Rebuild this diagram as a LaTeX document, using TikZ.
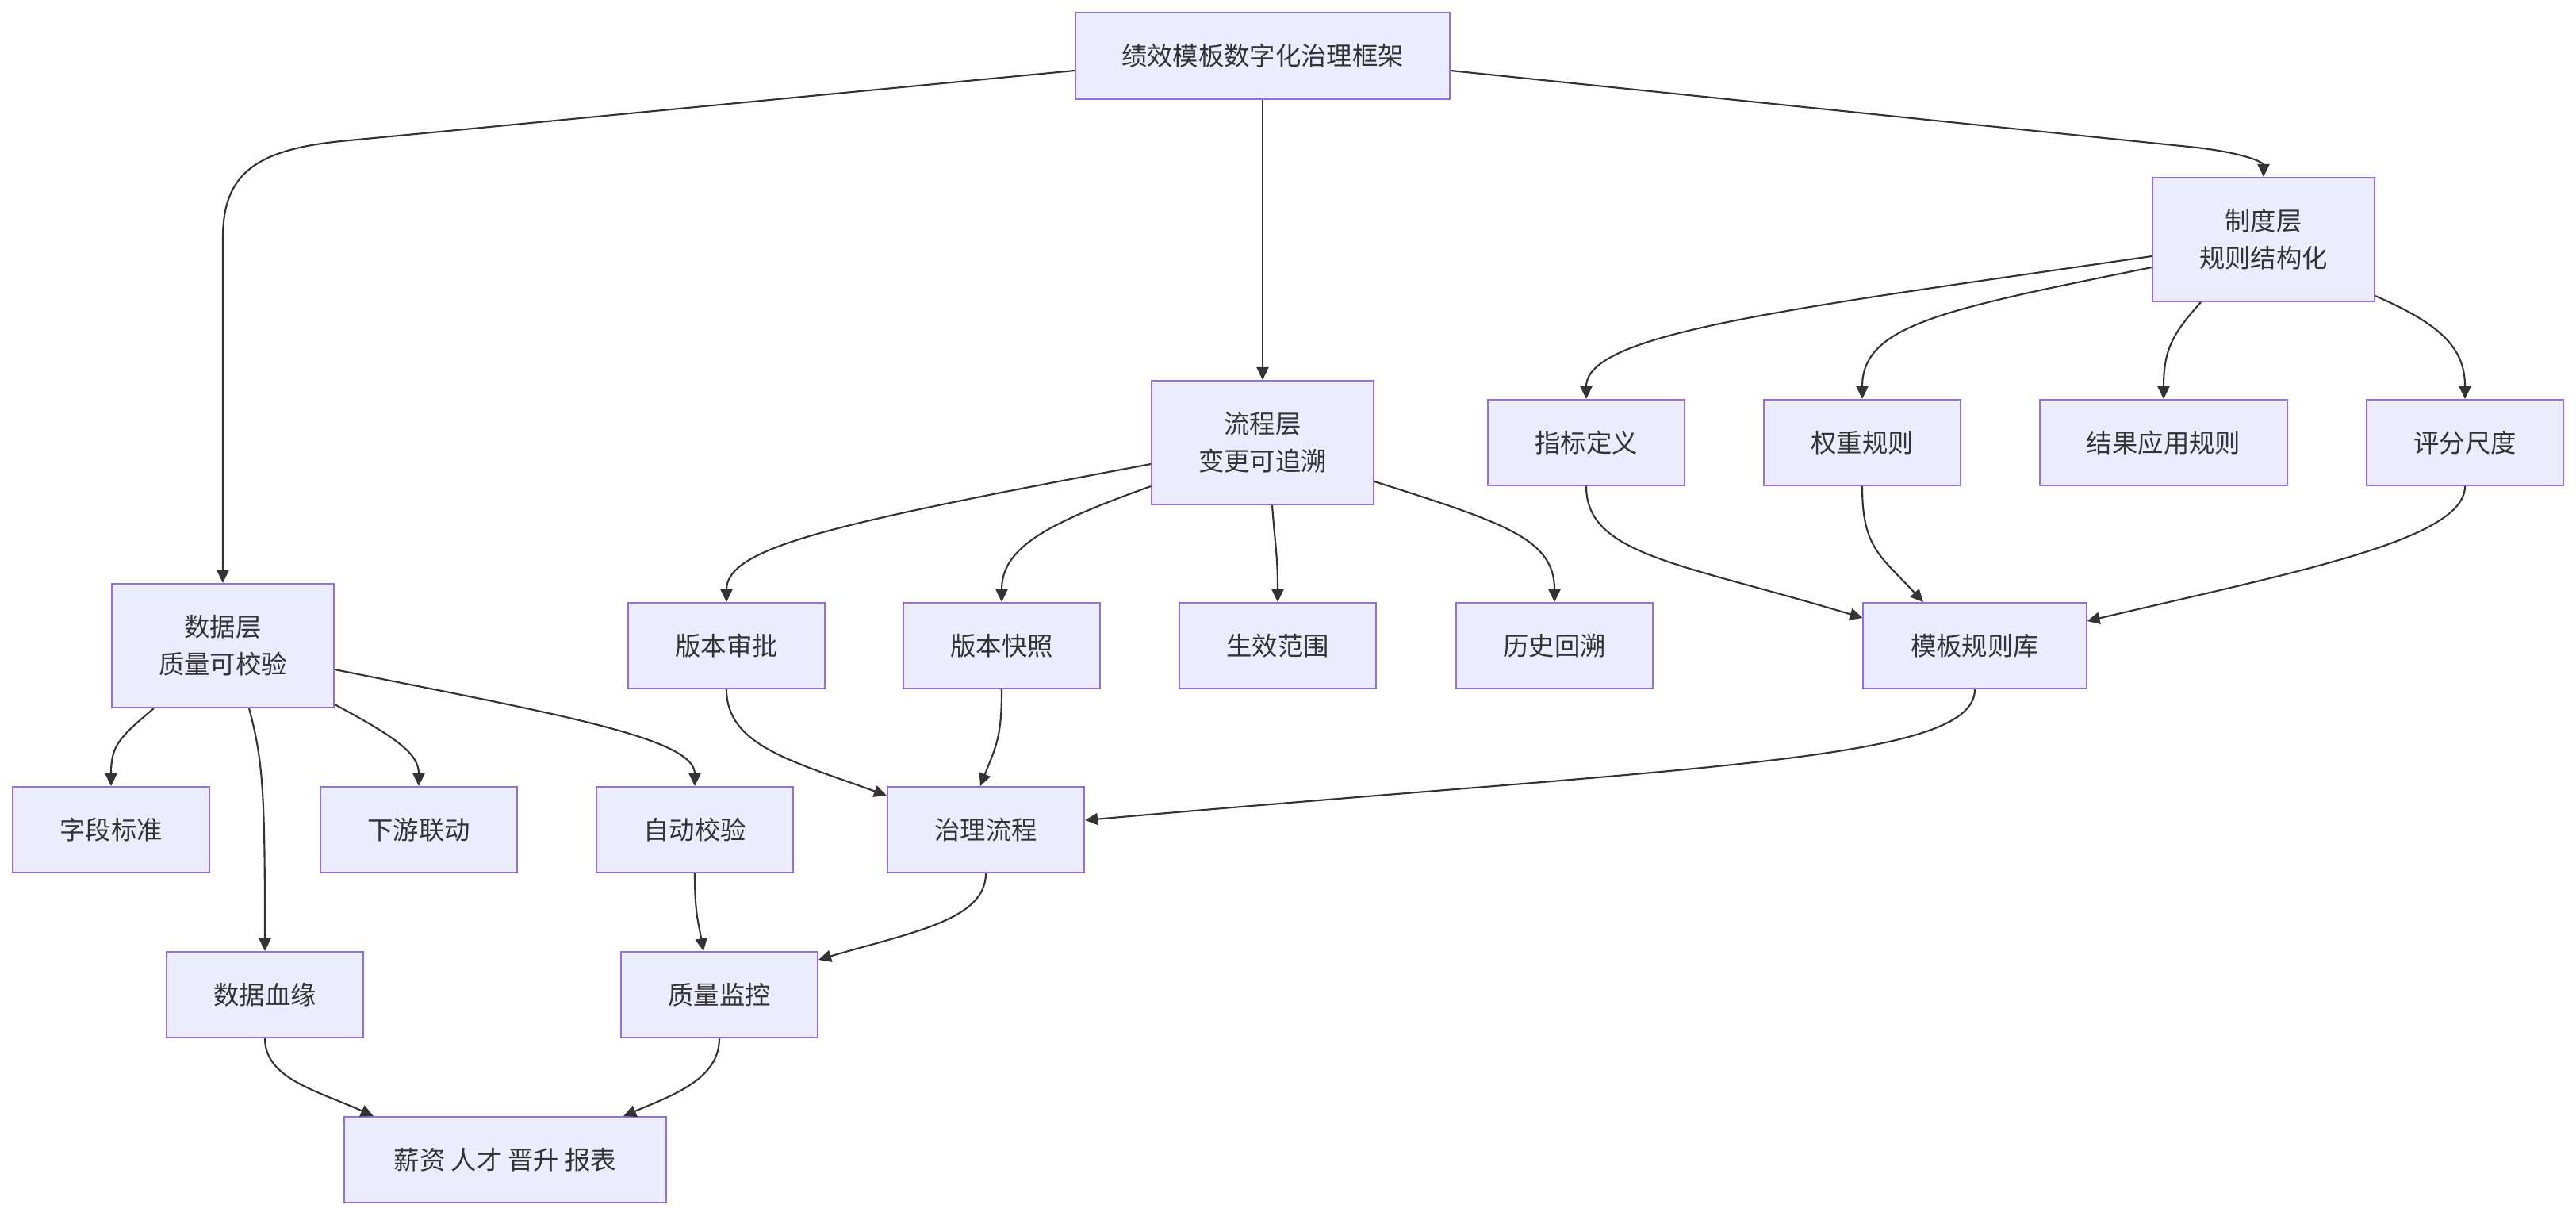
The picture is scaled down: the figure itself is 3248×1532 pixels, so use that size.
\documentclass[tikz,border=0pt]{standalone}
\usepackage{fontspec}
\setmainfont{Noto Sans CJK SC}
\usepackage{tikz}
\usetikzlibrary{arrows.meta}
\tikzset{every node/.style={font=\fontsize{9.2}{13.4}\selectfont}}
\definecolor{boxfill}{HTML}{ECECFF}
\definecolor{boxline}{HTML}{9370DB}
\definecolor{linecol}{HTML}{333333}
\colorlet{textcol}{linecol}
\tikzset{
  box/.style={draw=boxline, fill=boxfill, text=textcol, line width=0.55pt,
    minimum height=1.08cm, minimum width=2.48cm, inner xsep=2mm, align=center},
  tallbox/.style={box, minimum height=1.56cm, minimum width=2.8cm},
  flow/.style={->, line width=0.6pt, draw=linecol}
}

\begin{document}
\begin{tikzpicture}[x=0.01cm, y=-0.01cm, >={Triangle[length=1.6mm, width=1.5mm]}]

  \useasboundingbox (0,0) rectangle (3248,1532);

  % Root and the three layers.
  \node[box, minimum width=4.72cm, minimum height=1.09cm] (frame) at (1592,70) {绩效模板数字化治理框架};
  \node[tallbox] (policy) at (2854,302) {制度层\\规则结构化};
  \node[tallbox] (process) at (1592,558) {流程层\\变更可追溯};
  \node[tallbox] (data) at (281,814) {数据层\\质量可校验};

  % Policy layer items.
  \node[box] (metric) at (2000,558) {指标定义};
  \node[box] (weight) at (2348,558) {权重规则};
  \node[box, minimum width=3.12cm] (result) at (2728,558) {结果应用规则};
  \node[box] (rating) at (3108,558) {评分尺度};

  % Process layer items.
  \node[box] (approve) at (916,814) {版本审批};
  \node[box] (snapshot) at (1263,814) {版本快照};
  \node[box] (effect) at (1611,814) {生效范围};
  \node[box] (history) at (1960,814) {历史回溯};
  \node[box, minimum width=2.81cm] (ruledb) at (2490,814) {模板规则库};

  % Data layer items.
  \node[box] (fields) at (140,1046) {字段标准};
  \node[box] (downstream) at (528,1046) {下游联动};
  \node[box] (autocheck) at (876,1046) {自动校验};
  \node[box] (govflow) at (1243,1046) {治理流程};
  \node[box] (lineage) at (334,1254) {数据血缘};
  \node[box] (monitor) at (907,1254) {质量监控};
  \node[box, minimum width=4.06cm] (outputs) at (637,1462) {薪资 人才 晋升 报表};

  % Root to layers.
  \draw[flow] ([yshift=-1.9mm]frame.west) -- (430,178)
    .. controls (321,189) and (281,220) .. (281,300) -- (data.north);
  \draw[flow] (frame) -- (process);
  \draw[flow] ([yshift=-1.9mm]frame.east) -- (2760,185)
    .. controls (2830,192) and (2854,205) .. (policy.north);

  % Policy layer.
  \draw[flow] ([yshift=-2.1mm]policy.west)
    .. controls (2250,390) and (2000,420) .. (metric.north);
  \draw[flow] ([yshift=-3.5mm]policy.west)
    .. controls (2450,390) and (2348,410) .. (weight.north);
  \draw[flow] ([xshift=-7.9mm]policy.south)
    .. controls (2740,420) and (2728,440) .. (result.north);
  \draw[flow] ([yshift=-7.1mm]policy.east)
    .. controls (3080,410) and (3108,440) .. (rating.north);

  % Process layer.
  \draw[flow] ([yshift=-2.7mm]process.west)
    .. controls (1050,660) and (916,690) .. (approve.north);
  \draw[flow] ([yshift=-5.5mm]process.west)
    .. controls (1320,660) and (1263,690) .. (snapshot.north);
  \draw[flow] ([xshift=1.2mm]process.south)
    .. controls (1608,690) and (1611,700) .. (effect.north);
  \draw[flow] ([yshift=-4.9mm]process.east)
    .. controls (1900,660) and (1960,680) .. (history.north);

  % Rules feed the rule base.
  \draw[flow] (metric.south)
    .. controls (2000,700) and (2120,710) .. ([yshift=3.5mm]ruledb.west);
  \draw[flow] (weight.south)
    .. controls (2348,690) and (2370,700) .. ([xshift=-6.5mm]ruledb.north);
  \draw[flow] (rating.south)
    .. controls (3108,680) and (2900,720) .. ([yshift=3.1mm]ruledb.east);

  % Into the governance flow.
  \draw[flow] (ruledb.south)
    .. controls (2490,960) and (2150,965) .. ([yshift=1.2mm]govflow.east);
  \draw[flow] (approve.south)
    .. controls (916,940) and (1000,960) .. ([yshift=4.3mm]govflow.west);
  \draw[flow] (snapshot.south)
    .. controls (1263,930) and (1256,940) .. ([xshift=-0.7mm]govflow.north);

  % Data layer.
  \draw[flow] ([xshift=-8.7mm]data.south)
    .. controls (150,930) and (140,940) .. (fields.north);
  \draw[flow] ([xshift=3.3mm]data.south)
    .. controls (332,960) and (334,1000) .. (lineage.north);
  \draw[flow] ([yshift=-7.4mm]data.east)
    .. controls (500,930) and (528,950) .. (downstream.north);
  \draw[flow] ([yshift=-3.0mm]data.east)
    .. controls (700,900) and (876,930) .. (autocheck.north);

  % Monitoring and outputs.
  \draw[flow] (autocheck.south)
    .. controls (876,1150) and (880,1160) .. ([xshift=-2mm]monitor.north);
  \draw[flow] (govflow.south)
    .. controls (1243,1160) and (1150,1175) .. ([yshift=4.4mm]monitor.east);
  \draw[flow] (lineage.south)
    .. controls (334,1360) and (400,1375) .. ([xshift=-16.6mm]outputs.north);
  \draw[flow] (monitor.south)
    .. controls (907,1360) and (850,1380) .. ([xshift=14.9mm]outputs.north);

\end{tikzpicture}
\end{document}
